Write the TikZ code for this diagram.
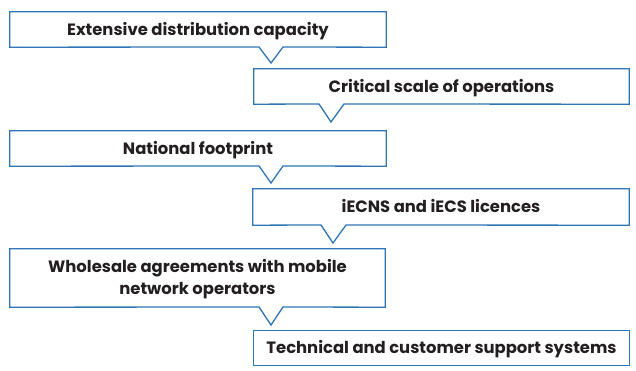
\documentclass[tikz,border=0pt]{standalone}
\usepackage{fontspec}
\setmainfont{Poppins}
\definecolor{boxblue}{HTML}{2E75B6}
\definecolor{txt}{HTML}{231F20}
\begin{document}
\begin{tikzpicture}[x=1pt,y=-1pt,
  box/.style={inner sep=0pt, text=txt, align=center,
    text height=11.6pt, text depth=0pt,
    font=\fontsize{16.4}{22}\selectfont\bfseries},
  callout/.style={draw=boxblue, line width=1.3pt, line join=miter}]
\useasboundingbox (0,0) rectangle (636,371);
% boxes as nodes
\node[box, minimum width=376pt, minimum height=35pt] (b1) at (198,29.5) {Extensive distribution capacity};
\node[box, minimum width=375pt, minimum height=35pt] (b2) at (441.5,86.5) {Critical scale of operations};
\node[box, minimum width=376pt, minimum height=35pt] (b3) at (198,148.5) {National footprint};
\node[box, minimum width=376pt, minimum height=36pt] (b4) at (441,207) {iECNS and iECS licences};
\node[box, minimum width=375pt, minimum height=58pt, text height=33.6pt] (b5) at (197.5,278) {Wholesale agreements with mobile\\network operators};
\node[box, minimum width=375pt, minimum height=34pt] (b6) at (441.5,348) {Technical and customer support systems};
% callout outlines
\draw[callout] (b1.north west) -- (b1.north east) -- (b1.south east) -- (283,47) -- (271,63) -- (259,47) -- (b1.south west) -- cycle;
\draw[callout] (b2.north west) -- (b2.north east) -- (b2.south east) -- (344,104) -- (331,122) -- (319,104) -- (b2.south west) -- cycle;
\draw[callout] (b3.north west) -- (b3.north east) -- (b3.south east) -- (283,166) -- (271,183) -- (259,166) -- (b3.south west) -- cycle;
\draw[callout] (b4.north west) -- (b4.north east) -- (b4.south east) -- (346,225) -- (333,243) -- (321,225) -- (b4.south west) -- cycle;
\draw[callout] (b5.north west) -- (b5.north east) -- (b5.south east) -- (283,307) -- (271,325) -- (259,307) -- (b5.south west) -- cycle;
\draw[callout] (b6.north west) rectangle (b6.south east);
\end{tikzpicture}
\end{document}
